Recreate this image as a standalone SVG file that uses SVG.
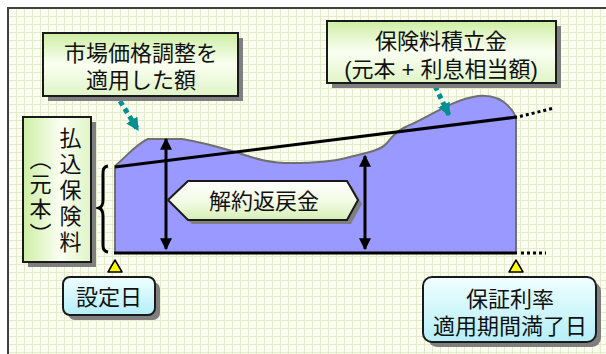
<svg xmlns="http://www.w3.org/2000/svg" width="606" height="354" viewBox="0 0 606 354">
<defs>
<pattern id="grid" x="0" y="0" width="8" height="8" patternUnits="userSpaceOnUse">
<rect width="8" height="8" fill="#fbfdf1"/>
<path d="M0,0.5 H8 M0.5,0 V8" stroke="#e3ecc8" stroke-width="1" fill="none"/>
</pattern>
<linearGradient id="gGreen" x1="0" y1="0" x2="0" y2="1">
<stop offset="0" stop-color="#cdeea4"/>
<stop offset="0.5" stop-color="#fbfff2"/>
<stop offset="1" stop-color="#dff4c6"/>
</linearGradient>
<linearGradient id="gGreenH" x1="0" y1="0" x2="1" y2="0">
<stop offset="0" stop-color="#cdeea4"/>
<stop offset="0.55" stop-color="#fbfff2"/>
<stop offset="1" stop-color="#dff4c6"/>
</linearGradient>
<linearGradient id="gHex" x1="0" y1="0" x2="0" y2="1">
<stop offset="0" stop-color="#ffffff"/>
<stop offset="0.55" stop-color="#f2fae4"/>
<stop offset="1" stop-color="#d6efb4"/>
</linearGradient>
<linearGradient id="gCyan" x1="0" y1="0" x2="0" y2="1">
<stop offset="0" stop-color="#f0ffff"/>
<stop offset="1" stop-color="#b4eef8"/>
</linearGradient>
<marker id="ah" viewBox="0 0 10 10" refX="9" refY="5" markerWidth="4" markerHeight="4" orient="auto-start-reverse" markerUnits="strokeWidth">
<path d="M0,0 L10,5 L0,10 Z" fill="#000"/>
</marker>
<marker id="tah" viewBox="0 0 10 10" refX="9" refY="5" markerWidth="2.6" markerHeight="2.6" orient="auto" markerUnits="strokeWidth">
<path d="M0,0 L10,5 L0,10 Z" fill="#009090"/>
</marker>
</defs>
<style>
text{font-family:"Liberation Sans","Noto Sans CJK JP","Noto Sans CJK SC",sans-serif;font-size:22px;fill:#111}
.box{stroke:#1a1a1a;stroke-width:2}
.shadow{fill:#7f7f7f}
.mid{text-anchor:middle}
</style>

<rect x="8" y="8" width="620" height="370" fill="url(#grid)" stroke="#404040" stroke-width="2"/>

<g id="chart">
<path d="M115,253 L115,166 C126,157 136,144 148,139 L182,139 C200,142 215,146 232,151 C250,156 262,163 292,163 C312,163 330,162 346,158 C365,153 380,151 387,143 C395,133 400,129 412,124 C432,115 452,100 478,96 C500,94 510,105 516,117 L516,253 Z" fill="#9999ff" stroke="#6f6f6f" stroke-width="2"/>
</g>

<g id="connectors">
<line x1="115" y1="167" x2="517" y2="117" stroke="#000" stroke-width="3"/>
<line x1="520" y1="116.5" x2="554" y2="108" stroke="#000" stroke-width="3" stroke-dasharray="3 3"/>
<line x1="114" y1="253" x2="517" y2="253" stroke="#000" stroke-width="3"/>
<line x1="521" y1="253" x2="546" y2="253" stroke="#000" stroke-width="3" stroke-dasharray="3 3"/>
<line x1="166" y1="139" x2="166" y2="249" stroke="#000" stroke-width="3" marker-start="url(#ah)" marker-end="url(#ah)"/>
<line x1="365" y1="156" x2="365" y2="249" stroke="#000" stroke-width="3" marker-start="url(#ah)" marker-end="url(#ah)"/>
<path d="M108,166 C102,167 103,172 103,178 L103,200 C103,205 102,207 99,208 C102,209 103,211 103,216 L103,240 C103,246 102,251 108,252" fill="none" stroke="#000" stroke-width="3"/>
<line x1="120" y1="101" x2="138" y2="130" stroke="#009090" stroke-width="5" stroke-dasharray="5 4" marker-end="url(#tah)"/>
<line x1="435" y1="86" x2="449" y2="115" stroke="#009090" stroke-width="5" stroke-dasharray="5 4" marker-end="url(#tah)"/>
<path d="M115,260 L122,272 L108,272 Z" fill="#ffff00" stroke="#000" stroke-width="1.5" stroke-linejoin="round"/>
<path d="M516,260 L523,272 L509,272 Z" fill="#ffff00" stroke="#000" stroke-width="1.5" stroke-linejoin="round"/>
</g>

<g id="node-market">
<rect class="shadow" x="48" y="38" width="195" height="63"/>
<rect class="box" x="43" y="33" width="195" height="63" fill="url(#gGreen)"/>
<text class="mid" x="141" y="61">市場価格調整を</text>
<text class="mid" x="141" y="88">適用した額</text>
</g>

<g id="node-reserve">
<rect class="shadow" x="332" y="26" width="229" height="62"/>
<rect class="box" x="327" y="21" width="229" height="62" fill="url(#gGreen)"/>
<text class="mid" x="441" y="49">保険料積立金</text>
<text class="mid" x="441" y="77">(元本 + 利息相当額)</text>
</g>

<g id="node-premium">
<rect class="shadow" x="28" y="122" width="68" height="145"/>
<rect class="box" x="23" y="117" width="68" height="145" fill="url(#gGreenH)"/>
<text x="68" y="127" style="writing-mode:vertical-rl;letter-spacing:4px">払込保険料</text>
<text x="38" y="148" style="writing-mode:vertical-rl;letter-spacing:3px">（元本）</text>
</g>

<g id="node-surrender">
<path class="shadow" d="M172,204 L192,185 L351,185 L362,204 L351,224 L192,224 Z"/>
<path class="box" d="M168,200 L188,181 L347,181 L358,200 L347,220 L188,220 Z" fill="url(#gHex)" stroke-width="1.5"/>
<text class="mid" x="264" y="209">解約返戻金</text>
</g>

<g id="node-start">
<rect class="shadow" x="68" y="282" width="92" height="38" rx="7"/>
<rect class="box" x="63" y="277" width="92" height="38" rx="7" fill="url(#gCyan)"/>
<text class="mid" x="109" y="305">設定日</text>
</g>

<g id="node-end">
<rect class="shadow" x="428" y="282" width="173" height="65" rx="9"/>
<rect class="box" x="423" y="277" width="173" height="65" rx="9" fill="url(#gCyan)"/>
<text class="mid" x="510" y="307">保証利率</text>
<text class="mid" x="510" y="334">適用期間満了日</text>
</g>
</svg>
